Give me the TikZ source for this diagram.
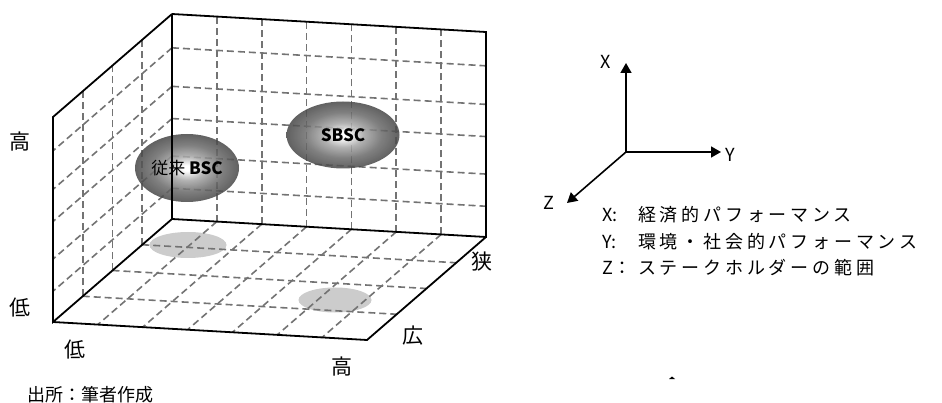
\documentclass[tikz,border=0pt]{standalone}
\usepackage{fontspec}
\newfontfamily\jp{Noto Sans CJK JP}
\newfontfamily\jpls[LetterSpace=21]{Noto Sans CJK JP}
\usetikzlibrary{arrows.meta,shapes.geometric}
\pgfdeclareradialshading{ballshade}{\pgfpoint{0bp}{0bp}}{color(0bp)=(white); color(2bp)=(white); color(9bp)=(black!35); color(17bp)=(black!58); color(25bp)=(black!72); color(50bp)=(black!72)}
\tikzset{
  gridline/.style={draw=black!55, line width=1.6pt, dash pattern=on 7pt off 4pt},
  edge/.style={draw=black, line width=1.8pt, line join=miter},
  ball/.style={ellipse, shading=ballshade, fill opacity=0.86, text opacity=1, inner sep=0pt, font=\fontsize{17}{17}\jp},
  shadowell/.style={ellipse, fill=black!20, inner sep=0pt},
  axlabel/.style={font=\fontsize{21}{21}\jp, inner sep=0pt},
  axis/.style={draw=black, line width=1.6pt, -{Triangle[length=10pt,width=11pt]}},
  letter/.style={font=\fontsize{18}{18}\jp, inner sep=0pt},
  legend/.style={font=\fontsize{18}{18}\jp, inner sep=0pt, anchor=west}
}
\begin{document}
\begin{tikzpicture}[x=1pt,y=-1pt]
\useasboundingbox (0,0) rectangle (942,403);
% corners
\coordinate (A) at (172,219);
\coordinate (B) at (486,237);
\coordinate (C) at (486,32);
\coordinate (D) at (172,14);
\coordinate (E) at (53,322);
\coordinate (F) at (53,117);
\coordinate (G) at (367,340);
% floor shadows
\node[shadowell, minimum width=77pt, minimum height=26pt] (sh1) at (188,245) {};
\node[shadowell, minimum width=73pt, minimum height=25pt] (sh2) at (335,300) {};
% back wall grid
\foreach \k in {1,...,6}
  \draw[gridline] ({172+314*\k/7},{219+18*\k/7}) -- ++(0,-205);
\foreach \f in {0.15,0.307,0.49,0.647,0.835}
  \draw[gridline] (172,{219-205*\f}) -- ++(314,18);
% left wall grid
\foreach \f in {0.15,0.307,0.49,0.647,0.835}
  \draw[gridline] (172,{219-205*\f}) -- ++(-119,103);
\foreach \t in {0.25,0.5,0.75}
  \draw[gridline] ({172-119*\t},{219+103*\t}) -- ++(0,-205);
% floor grid
\foreach \t in {0.25,0.5,0.75}
  \draw[gridline] ({172-119*\t},{219+103*\t}) -- ++(314,18);
\foreach \k in {1,...,6}
  \draw[gridline] ({172+314*\k/7},{219+18*\k/7}) -- ++(-119,103);
% solid edges
\draw[edge] (A) -- (B) -- (C) -- (D);
\draw[edge] (D) -- (F) -- (E) -- (A);
\draw[edge] (E) -- (G) -- (B);
% balls
\node[ball, minimum width=104pt, minimum height=68pt] (bsc) at (187,168) {従来 \textbf{BSC}};
\node[ball, minimum width=113pt, minimum height=67pt] (sbsc) at (343,135) {\textbf{SBSC}};
\draw[edge] (D) -- (A);
% axis labels of the box
\node[axlabel] (hiL) at (20,142) {高};
\node[axlabel] (loL) at (20,308) {低};
\node[axlabel] (loB) at (75,350) {低};
\node[axlabel] (hiB) at (342,367) {高};
\node[axlabel] (nar) at (482,262) {狭};
\node[axlabel] (wid) at (413,336) {広};
\node[font=\fontsize{18}{18}\jp, inner sep=0pt, anchor=west] (src) at (27,395) {出所：筆者作成};
% coordinate axes
\coordinate (O) at (626,152);
\coordinate (Xe) at (626,63);
\coordinate (Ye) at (721,152);
\coordinate (Ze) at (567,203);
\draw[axis] (O) -- (Xe);
\draw[axis] (O) -- (Ye);
\draw[axis] (O) -- (Ze);
\node[letter] (xl) at (606,62) {X};
\node[letter] (yl) at (730,155) {Y};
\node[letter] (zl) at (549,203) {Z};
% legend
\node[legend] (lx) at (602,215) {\makebox[36pt][l]{X:}\jpls 経済的パフォーマンス};
\node[legend] (ly) at (602,242) {\makebox[36pt][l]{Y:}\jpls 環境・社会的パフォーマンス};
\node[legend] (lz) at (602,268) {\makebox[36pt][l]{Z：}\jpls ステークホルダーの範囲};
% small mark
\fill (669,379) -- (675,379) -- (672,376.5) -- cycle;
\end{tikzpicture}
\end{document}
